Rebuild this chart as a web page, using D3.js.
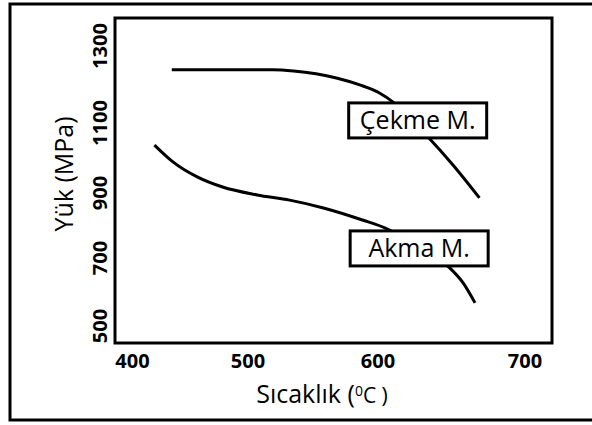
<!DOCTYPE html>
<html>
<head>
<meta charset="utf-8">
<script src="https://cdn.jsdelivr.net/npm/d3@7"></script>
<style>
  body { margin: 0; background: #fff; }
  svg { display: block; font-family: "Open Sans", sans-serif; }
</style>
</head>
<body>
<svg id="chart" width="592" height="425"></svg>
<script>
// tick values
const xTicks = [400, 500, 600, 700];
const yTicks = [500, 700, 900, 1100, 1300];

// Çekme M. (tensile strength) curve
const cekmeTemp = [434, 519, 535, 568, 586, 601, 610, 622, 634, 651, 669];
const cekmeLoad = [1238, 1238, 1235, 1217, 1199, 1178, 1155, 1110, 1060, 980, 885];

// Akma M. (yield strength) curve
const akmaTemp = [419, 435, 456, 478, 507, 532, 558, 588, 605, 627, 648, 658, 666];
const akmaLoad = [1037, 989, 946, 917, 894, 878, 854, 817, 792, 735, 674, 626, 568];

// label boxes, placed in data units
const labelNames = ["Çekme M.", "Akma M."];
const labelTemp = [627, 628];
const labelLoad = [1108, 731];

const svg = d3.select("#chart");

// the hand drawn axis is not evenly spaced, so use a piecewise scale
const x = d3.scaleLinear()
    .domain(xTicks)
    .range([132.5, 248, 378, 525]);

const y = d3.scaleLinear()
    .domain(yTicks)
    .range([326, 258, 193, 123, 46]);

// outer frame
svg.append("rect")
    .attr("x", 10)
    .attr("y", 4)
    .attr("width", 600)
    .attr("height", 416)
    .attr("fill", "none")
    .attr("stroke", "#000")
    .style("stroke-width", 3);

// plot box
svg.append("rect")
    .attr("x", 115)
    .attr("y", 18)
    .attr("width", 437)
    .attr("height", 325)
    .attr("fill", "none")
    .attr("stroke", "#000")
    .style("stroke-width", 3);

// x tick labels
svg.selectAll(".xtick")
    .data(xTicks)
    .enter()
    .append("text")
    .attr("class", "xtick")
    .attr("x", d => x(d))
    .attr("y", 368)
    .attr("text-anchor", "middle")
    .style("font-size", "20px")
    .style("font-weight", "bold")
    .text(d => d);

// y tick labels (rotated)
svg.selectAll(".ytick")
    .data(yTicks)
    .enter()
    .append("text")
    .attr("class", "ytick")
    .attr("transform", d => "translate(107," + y(d) + ") rotate(-90)")
    .attr("text-anchor", "middle")
    .style("font-size", "20px")
    .style("font-weight", "bold")
    .text(d => d);

// axis titles
const xTitle = svg.append("text")
    .attr("x", 322)
    .attr("y", 403)
    .attr("text-anchor", "middle")
    .style("font-size", "25px");
xTitle.append("tspan").text("Sıcaklık (");
xTitle.append("tspan").attr("dy", -7).style("font-size", "14px").text("0");
xTitle.append("tspan").attr("dy", 7).style("font-size", "21px").text("C )");

svg.append("text")
    .attr("transform", "translate(73,174) rotate(-90)")
    .attr("text-anchor", "middle")
    .style("font-size", "25px")
    .text("Yük (MPa)");

// curves
const line = d3.line()
    .x(d => x(d[0]))
    .y(d => y(d[1]))
    .curve(d3.curveMonotoneX);

const series = [
    d3.zip(cekmeTemp, cekmeLoad),
    d3.zip(akmaTemp, akmaLoad)
];

series.forEach(pts => {
    svg.append("path")
        .attr("d", line(pts))
        .attr("fill", "none")
        .attr("stroke", "#000")
        .style("stroke-width", 3);
});

// label boxes drawn over the curves
labelNames.forEach((name, i) => {
    const cx = x(labelTemp[i]);
    const cy = y(labelLoad[i]);
    svg.append("rect")
        .attr("x", cx - 69)
        .attr("y", cy - 17)
        .attr("width", 138)
        .attr("height", 35)
        .attr("fill", "#fff")
        .attr("stroke", "#000")
        .style("stroke-width", 3);
    svg.append("text")
        .attr("x", cx)
        .attr("y", cy + 9)
        .attr("text-anchor", "middle")
        .style("font-size", "25px")
        .text(name);
});
</script>
</body>
</html>
